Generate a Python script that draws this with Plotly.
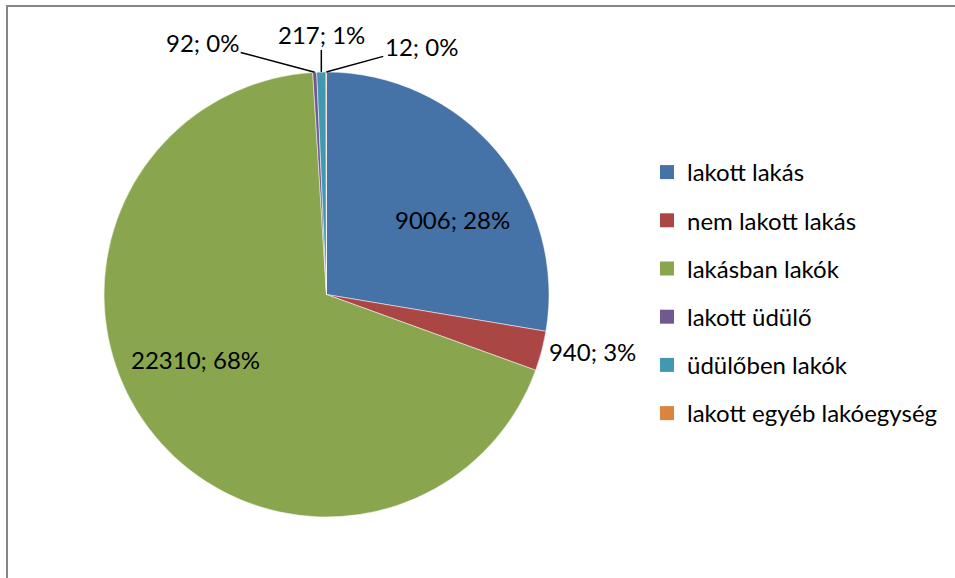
import math
import plotly.graph_objects as go

labels = ["lakott lakás", "nem lakott lakás", "lakásban lakók", "lakott üdülő",
          "üdülőben lakók", "lakott egyéb lakóegység"]
values = [9006, 940, 22310, 92, 217, 12]
colors = ["#4572A7", "#AA4643", "#89A54E", "#71588F", "#4198AF", "#DB843D"]

W, H = 955, 578
FONT = "Lato"
FS = 24

total = sum(values)
pct = [round(100 * v / total) for v in values]
texts = [f"{v}; {p}%" for v, p in zip(values, pct)]

# pie geometry (pixels)
cx, cy, R = 326.5, 294.5, 222.5
dom_x = [(cx - R) / W, (cx + R) / W]
dom_y = [1 - (cy + R) / H, 1 - (cy - R) / H]

textpos = ["none", "outside", "none", "none", "none", "none"]

fig = go.Figure()
fig.add_trace(go.Pie(
    labels=labels, values=values, sort=False, direction="clockwise", rotation=0,
    marker=dict(colors=colors, line=dict(color="white", width=0.5)),
    text=texts, textinfo="text", textposition=textpos,
    textfont=dict(family=FONT, size=FS, color="black"),
    domain=dict(x=dom_x, y=dom_y), showlegend=False, hoverinfo="label+value+percent",
))

# legend entries
for lab, col in zip(labels, colors):
    fig.add_trace(go.Scatter(
        x=[None], y=[None], mode="markers", name=lab, legendgroup=lab,
        marker=dict(symbol="square", size=14, color=col),
    ))

# data labels placed from each slice's mid angle
inside = {0: (0.66, 14, -20), 2: (0.66, -13, 23)}   # radius fraction, xshift, yshift
leader = {3: (-112, -30), 4: (0, -38), 5: (95, -26)}  # text offset from slice edge
cum = 0
for i, v in enumerate(values):
    mid = cum + v / 2
    cum += v
    ang = 2 * math.pi * mid / total
    if i in inside:
        rf, xs, ys = inside[i]
        px = cx + rf * R * math.sin(ang)
        py = cy - rf * R * math.cos(ang)
        fig.add_annotation(
            x=px / W, y=1 - py / H, xref="paper", yref="paper", text=texts[i],
            showarrow=False, xshift=xs, yshift=ys, xanchor="center", yanchor="middle",
            font=dict(family=FONT, size=FS, color="black"),
        )
    if i in leader:
        px = cx + R * math.sin(ang)
        py = cy - R * math.cos(ang)
        ax, ay = leader[i]
        fig.add_annotation(
            x=px / W, y=1 - py / H, xref="paper", yref="paper",
            text=texts[i], showarrow=True, arrowhead=0, arrowwidth=1.5,
            arrowcolor="black", ax=ax, ay=ay, standoff=0,
            font=dict(family=FONT, size=FS, color="black"),
        )

fig.add_shape(type="rect", xref="paper", yref="paper",
              x0=7 / W, x1=1.05, y0=-0.05, y1=1 - 6 / H,
              line=dict(color="#868686", width=2))

fig.update_layout(
    width=W, height=H, margin=dict(l=0, r=0, t=0, b=0),
    paper_bgcolor="white", plot_bgcolor="white",
    xaxis=dict(visible=False), yaxis=dict(visible=False),
    legend=dict(x=647 / W, y=1 - 150 / H, xanchor="left", yanchor="top",
                font=dict(family=FONT, size=FS, color="black"),
                tracegroupgap=14, itemwidth=30, bgcolor="rgba(0,0,0,0)"),
)

fig.write_html("out.html", config={"displayModeBar": False},
               post_script="document.body.style.margin='0';document.body.style.overflow='hidden';")
